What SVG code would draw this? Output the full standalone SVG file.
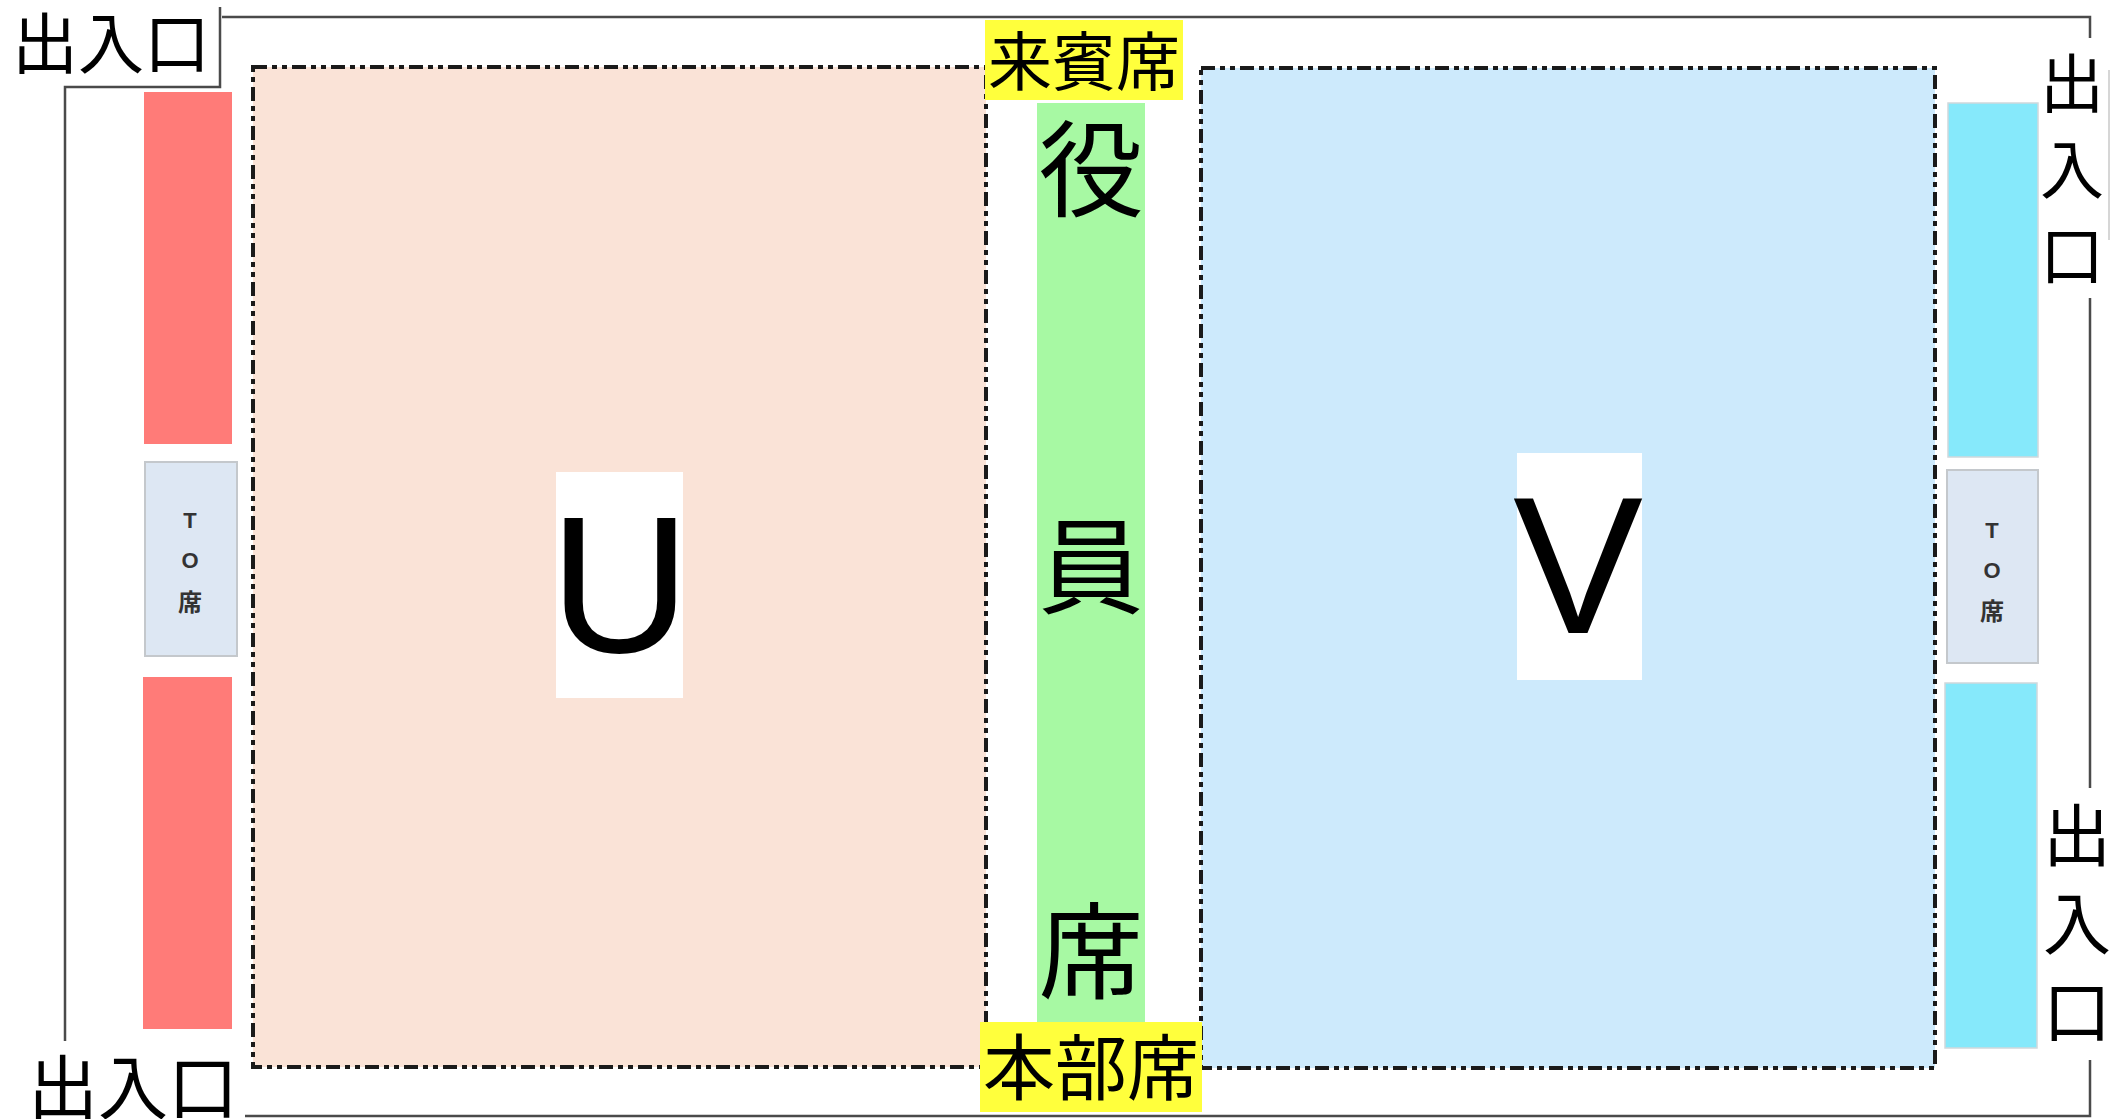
<svg xmlns="http://www.w3.org/2000/svg" width="2112" height="1119" viewBox="0 0 2112 1119">
<style>
.border{fill:none;stroke:#4a4a4a;stroke-width:2.5}
.thin{fill:none;stroke:#c8c8c8;stroke-width:1.5}
.court{stroke:#1a1a1a;stroke-width:4;stroke-dasharray:14 5 5 5 5 5}
.cjk{font-family:"Noto Sans CJK JP","Noto Sans CJK SC",sans-serif;fill:#000}
.vert{font-family:"Noto Sans CJK JP","Noto Sans CJK SC",sans-serif;fill:#000;writing-mode:vertical-rl}
.lat{font-family:"Liberation Sans",Arial,sans-serif;fill:#000}
.to{font-family:"Liberation Sans","Noto Sans CJK JP",sans-serif;font-weight:bold;font-size:22px;fill:#333;text-anchor:middle}
.tocjk{font-family:"Noto Sans CJK JP",sans-serif;font-weight:bold;font-size:24px;fill:#333;text-anchor:middle}
.tobox{fill:#dde7f3;stroke:#c4c8cc;stroke-width:2}
.red{fill:#ff7b78}
.cyan{fill:#86e9fb;stroke:#d0d8dc;stroke-width:1.5}
.yellow{fill:#ffff3c}
</style>
<rect width="2112" height="1119" fill="#ffffff"/>
<g id="connectors">
<path class="border" d="M220 7 V87 H65 V1041"/>
<path class="border" d="M222 17 H2090 V38"/>
<path class="border" d="M2090 298 V788"/>
<path class="border" d="M2090 1060 V1116 H245"/>
<path class="thin" d="M2109 70 V240"/>
</g>
<g id="court-U">
<rect class="court" x="253" y="67" width="733" height="1000" fill="#fae3d7"/>
<rect x="556" y="472" width="127" height="226" fill="#ffffff"/>
<text class="lat" x="620" y="652" font-size="195" text-anchor="middle">U</text>
</g>
<g id="court-V">
<rect class="court" x="1201" y="68" width="734" height="1000" fill="#cdeafc"/>
<rect x="1517" y="453" width="125" height="227" fill="#ffffff"/>
<text class="lat" x="1578" y="633" font-size="195" text-anchor="middle">V</text>
</g>
<g id="officials">
<rect x="1037" y="103" width="108" height="919" fill="#a7f9a3"/>
<text class="cjk" x="1091" y="208" font-size="105" text-anchor="middle">役</text>
<text class="cjk" x="1091" y="605" font-size="105" text-anchor="middle">員</text>
<text class="cjk" x="1091" y="990" font-size="105" text-anchor="middle">席</text>
</g>
<g id="guest">
<rect class="yellow" x="985" y="20" width="198" height="80"/>
<text class="cjk" x="1084" y="85" font-size="64" text-anchor="middle">来賓席</text>
</g>
<g id="hq">
<rect class="yellow" x="980" y="1022" width="222" height="90"/>
<text class="cjk" x="1091" y="1094" font-size="72" text-anchor="middle">本部席</text>
</g>
<g id="bench-U-top"><rect class="red" x="144" y="92" width="88" height="352"/></g>
<g id="bench-U-bottom"><rect class="red" x="143" y="677" width="89" height="352"/></g>
<g id="to-left">
<rect class="tobox" x="145" y="462" width="92" height="194"/>
<text class="to" x="190" y="528">T</text>
<text class="to" x="190" y="568">O</text>
<text class="tocjk" x="190" y="611">席</text>
</g>
<g id="bench-V-top"><rect class="cyan" x="1948" y="103" width="90" height="354"/></g>
<g id="bench-V-bottom"><rect class="cyan" x="1945" y="683" width="92" height="365"/></g>
<g id="to-right">
<rect class="tobox" x="1947" y="470" width="91" height="193"/>
<text class="to" x="1992" y="538">T</text>
<text class="to" x="1992" y="578">O</text>
<text class="tocjk" x="1992" y="620">席</text>
</g>
<g id="exit-top-left">
<text class="cjk" x="12" y="68" font-size="66">出入口</text>
</g>
<g id="exit-bottom-left">
<text class="cjk" x="28" y="1114" font-size="70">出入口</text>
</g>
<g id="exit-right-top">
<text class="vert" x="2072" y="51" font-size="64" letter-spacing="22">出入口</text>
</g>
<g id="exit-right-bottom">
<text class="vert" x="2077" y="801" font-size="68" letter-spacing="20">出入口</text>
</g>
</svg>
